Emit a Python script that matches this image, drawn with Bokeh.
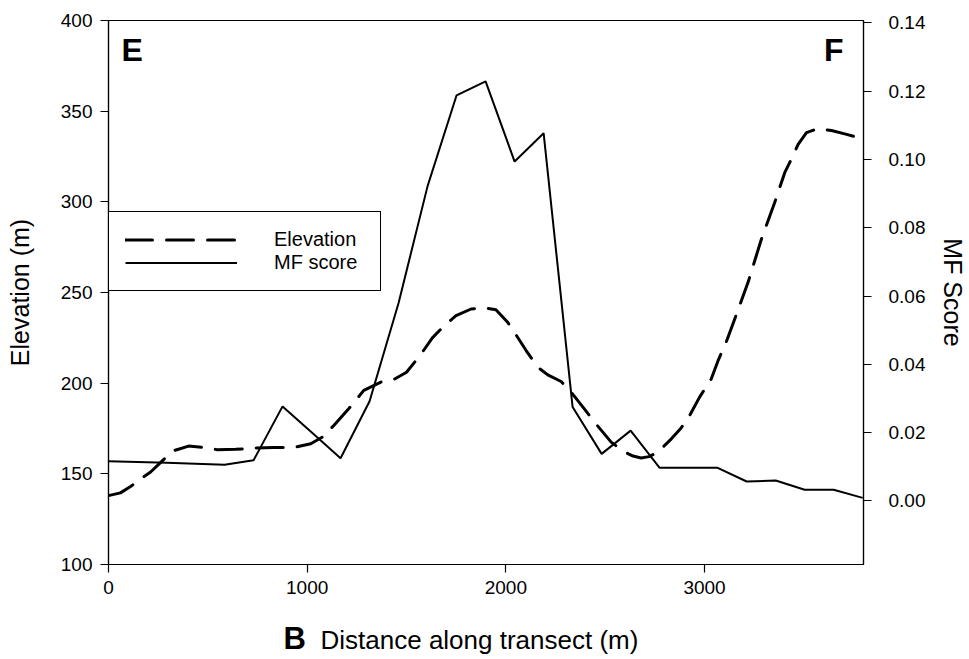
from bokeh.plotting import figure
from bokeh.layouts import column
from bokeh.models import (Range1d, LinearAxis, Legend, LegendItem, Label,
                          NumeralTickFormatter, FixedTicker)
from bokeh.core.properties import value
from bokeh.embed import file_html
from bokeh.resources import INLINE

# ---------------- data ----------------
elev_x = [0, 60, 111, 160, 212, 260, 321, 403, 480, 548, 640, 731, 830, 932,
          1018, 1080, 1134, 1210, 1285, 1371, 1436, 1500, 1573, 1630, 1690,
          1749, 1825, 1892, 1950, 2009, 2059, 2102, 2160, 2211, 2278, 2329,
          2388, 2450, 2530, 2590, 2640, 2681, 2720, 2765, 2833, 2880, 2925,
          2975, 3034, 3068, 3110, 3152, 3219, 3286, 3353, 3404, 3437, 3471,
          3513, 3572, 3639, 3715, 3790]
elev_y = [138, 139.5, 143, 147, 151, 156, 162.5, 165.3, 164.5, 163.3, 163.5,
          164.2, 164.5, 164.5, 166.6, 170.5, 176.7, 186, 196, 200.6, 202, 206,
          216, 225, 231.7, 237.2, 240.9, 241.6, 240.5, 233.6, 225.3, 218,
          208.8, 204.6, 200.9, 195, 186.8, 178, 167.5, 162.5, 159.8, 158.7,
          159.5, 162, 169.3, 175, 182.2, 192.3, 202.4, 212.4, 223, 235.4,
          255.6, 279.4, 299.6, 316.2, 323.5, 331.7, 338.2, 340.4, 339.3,
          337.2, 334.9]

mf_x = [0, 146, 292, 438, 584, 730, 876, 1022, 1168, 1314, 1460, 1606, 1752,
        1898, 2044, 2190, 2336, 2482, 2628, 2774, 2920, 3066, 3212, 3358,
        3504, 3650, 3796]
mf_y = [0.0116, 0.0114, 0.0112, 0.0109, 0.0106, 0.0119, 0.0277, 0.0201,
        0.0125, 0.0292, 0.0580, 0.0922, 0.1188, 0.1229, 0.0994, 0.1077,
        0.0275, 0.0138, 0.0206, 0.0097, 0.0097, 0.0097, 0.0057, 0.0060,
        0.0033, 0.0033, 0.0009]

x_ticks = [0, 1000, 2000, 3000]
elev_ticks = [100, 150, 200, 250, 300, 350, 400]
mf_ticks = [0.0, 0.02, 0.04, 0.06, 0.08, 0.10, 0.12, 0.14]

x_title = "Distance along transect (m)"
y_title = "Elevation (m)"
y2_title = "MF Score"
series_names = ["Elevation", "MF score"]
panel_letters = ["E", "F", "B"]

FONT = "Liberation Sans"
LEFT, FRAME_W, RIGHT = 108, 755, 106
TOP, FRAME_H, BOTTOM = 20, 544, 52
STRIP_H = 659 - (TOP + FRAME_H + BOTTOM)

# ---------------- main figure ----------------
p = figure(frame_width=FRAME_W, frame_height=FRAME_H,
           x_range=Range1d(0, 3800), y_range=Range1d(100, 400),
           output_backend="svg", toolbar_location=None,
           min_border_left=LEFT, min_border_right=RIGHT,
           min_border_top=TOP, min_border_bottom=BOTTOM)
p.grid.visible = False
p.outline_line_color = "black"
p.outline_line_width = 1.2
p.outline_line_alpha = 1
p.background_fill_color = "white"
p.border_fill_color = "white"

p.extra_y_ranges = {"mf": Range1d(-0.0186, 0.1407)}

elev_r = p.line(elev_x, elev_y, line_color="black", line_width=3,
                line_dash="27 14", line_cap="round", line_join="round")
mf_r = p.line(mf_x, mf_y, line_color="black", line_width=2,
              y_range_name="mf")

right = LinearAxis(y_range_name="mf", axis_label=y2_title)
right.ticker = FixedTicker(ticks=mf_ticks)
right.formatter = NumeralTickFormatter(format="0.00")
p.add_layout(right, "right")

p.xaxis.ticker = FixedTicker(ticks=x_ticks)
p.yaxis[0].ticker = FixedTicker(ticks=elev_ticks)
p.yaxis[0].axis_label = y_title

for ax in p.axis:
    ax.axis_line_color = "black"
    ax.axis_line_width = 1.2
    ax.major_tick_line_color = "black"
    ax.major_tick_line_width = 1.2
    ax.major_tick_in = 0
    ax.major_tick_out = 8
    ax.minor_tick_line_color = None
    ax.major_label_text_font = FONT
    ax.major_label_text_font_size = "19px"
    ax.major_label_text_color = "black"
    ax.axis_label_text_font = FONT
    ax.axis_label_text_font_size = "25px"
    ax.axis_label_text_font_style = "normal"
    ax.axis_label_text_color = "black"

p.yaxis[0].major_label_standoff = 8
p.yaxis[0].axis_label_standoff = 24
p.xaxis.major_label_standoff = 8
right.major_label_standoff = 17
right.axis_label_standoff = 11

legend = Legend(items=[LegendItem(label=series_names[0], renderers=[elev_r]),
                       LegendItem(label=series_names[1], renderers=[mf_r])],
                location=(0, 273), glyph_width=112, glyph_height=23,
                label_height=23, label_standoff=37, label_width=90,
                padding=16, spacing=0,
                border_line_color="black", border_line_width=1,
                border_line_alpha=1,
                background_fill_color="white", background_fill_alpha=1,
                label_text_font=FONT, label_text_font_size="20px",
                label_text_color="black", margin=0)
p.add_layout(legend, "center")

for txt, x, align in [(panel_letters[0], 13, "left"),
                      (panel_letters[1], 735, "right")]:
    p.add_layout(Label(x=x, y=515, x_units="screen", y_units="screen",
                       text=txt, text_font=FONT, text_font_size="32px",
                       text_font_style="bold", text_color="black",
                       text_align=align, text_baseline="alphabetic"))

# ---------------- bottom strip with the x-axis title ----------------
# same frame geometry as the main plot; coordinates equal page pixels
strip_top = TOP + FRAME_H + BOTTOM
p2 = figure(frame_width=FRAME_W, frame_height=STRIP_H,
            x_range=Range1d(LEFT, LEFT + FRAME_W),
            y_range=Range1d(659, strip_top), output_backend="svg",
            toolbar_location=None, x_axis_location=None,
            y_axis_location=None, min_border_left=LEFT,
            min_border_right=RIGHT, min_border_top=0, min_border_bottom=0)
p2.grid.visible = False
p2.outline_line_color = None
p2.background_fill_color = "white"
p2.border_fill_color = "white"
p2.text(x=[283], y=[638], text=[panel_letters[2]], text_font=value(FONT),
        text_font_size="31px", text_font_style="bold", text_color="black",
        text_align="left", text_baseline="alphabetic")
p2.text(x=[320], y=[639], text=[x_title], text_font=value(FONT),
        text_font_size="26px", text_color="black",
        text_align="left", text_baseline="alphabetic")

layout = column(p, p2, spacing=0)
open("out.html", "w").write(file_html(layout, INLINE))
